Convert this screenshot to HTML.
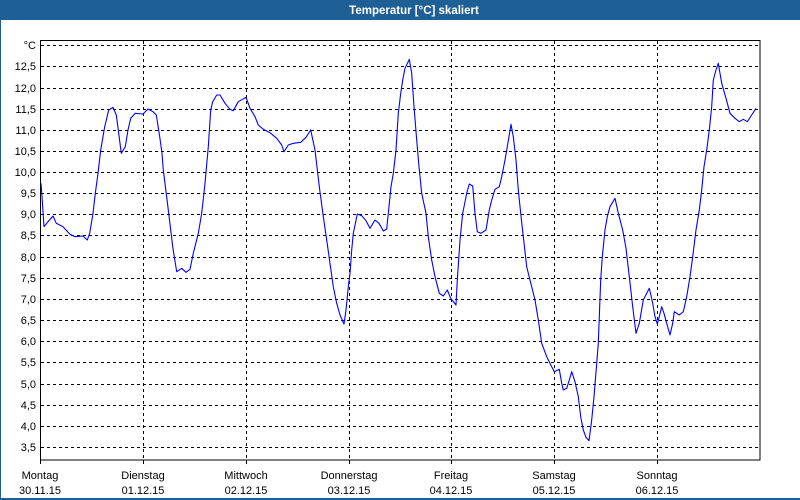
<!DOCTYPE html>
<html>
<head>
<meta charset="utf-8">
<style>
html,body{margin:0;padding:0;background:#fff;}
svg{display:block;}
text{font-family:"Liberation Sans",Arial,sans-serif;}
</style>
</head>
<body>
<svg width="800" height="500" viewBox="0 0 800 500" xmlns="http://www.w3.org/2000/svg">
<rect x="0" y="0" width="800" height="500" fill="#ffffff"/>
<!-- title bar -->
<rect x="0" y="0" width="800" height="20" fill="#1e6096"/>
<text x="414" y="14" fill="#ffffff" font-size="11.5" font-weight="bold" text-anchor="middle">Temperatur [°C] skaliert</text>
<!-- frame borders -->
<rect x="0" y="20" width="1" height="480" fill="#1e6096"/>
<rect x="0" y="498" width="800" height="2" fill="#1e6096"/>

<!-- horizontal dashed grid -->
<g stroke="#000" stroke-width="1" stroke-dasharray="3,3" shape-rendering="crispEdges">
<line x1="41" x2="760" y1="45.5" y2="45.5"/>
<line x1="41" x2="760" y1="66.5" y2="66.5"/>
<line x1="41" x2="760" y1="88.5" y2="88.5"/>
<line x1="41" x2="760" y1="109.5" y2="109.5"/>
<line x1="41" x2="760" y1="130.5" y2="130.5"/>
<line x1="41" x2="760" y1="151.5" y2="151.5"/>
<line x1="41" x2="760" y1="172.5" y2="172.5"/>
<line x1="41" x2="760" y1="193.5" y2="193.5"/>
<line x1="41" x2="760" y1="214.5" y2="214.5"/>
<line x1="41" x2="760" y1="235.5" y2="235.5"/>
<line x1="41" x2="760" y1="257.5" y2="257.5"/>
<line x1="41" x2="760" y1="278.5" y2="278.5"/>
<line x1="41" x2="760" y1="299.5" y2="299.5"/>
<line x1="41" x2="760" y1="320.5" y2="320.5"/>
<line x1="41" x2="760" y1="341.5" y2="341.5"/>
<line x1="41" x2="760" y1="362.5" y2="362.5"/>
<line x1="41" x2="760" y1="384.5" y2="384.5"/>
<line x1="41" x2="760" y1="405.5" y2="405.5"/>
<line x1="41" x2="760" y1="426.5" y2="426.5"/>
<line x1="41" x2="760" y1="447.5" y2="447.5"/>
</g>
<!-- vertical dashed grid -->
<g stroke="#000" stroke-width="1" stroke-dasharray="3,3" shape-rendering="crispEdges">
<line x1="143.5" x2="143.5" y1="41" y2="460"/>
<line x1="246.5" x2="246.5" y1="41" y2="460"/>
<line x1="349.5" x2="349.5" y1="41" y2="460"/>
<line x1="451.5" x2="451.5" y1="41" y2="460"/>
<line x1="554.5" x2="554.5" y1="41" y2="460"/>
<line x1="657.5" x2="657.5" y1="41" y2="460"/>
</g>
<!-- ticks below axis -->
<g stroke="#000" stroke-width="1" shape-rendering="crispEdges">
<line x1="40.5" x2="40.5" y1="460" y2="464"/>
<line x1="143.5" x2="143.5" y1="460" y2="464"/>
<line x1="246.5" x2="246.5" y1="460" y2="464"/>
<line x1="349.5" x2="349.5" y1="460" y2="464"/>
<line x1="451.5" x2="451.5" y1="460" y2="464"/>
<line x1="554.5" x2="554.5" y1="460" y2="464"/>
<line x1="657.5" x2="657.5" y1="460" y2="464"/>
</g>
<!-- plot frame -->
<rect x="40.5" y="40.5" width="719.5" height="419.5" fill="none" stroke="#000" stroke-width="1.2" shape-rendering="crispEdges"/>

<!-- data line -->
<polyline fill="none" stroke="#0000ff" stroke-width="1.1" stroke-linejoin="round" points="
41,183.3 42,196.7 44,226.7 48,221.7 53,216 56.3,223.3 63,226.7 69.7,234 74.7,236.7 83,236 87.3,240 89.7,233.3 93,213.3 95.3,193.3 98,173.3 100.7,150 104.7,126.7 108.7,110 113,107.3 116.3,115 118.7,133.3 121.3,153.3 125.3,146.7 128,130 130.7,118.3 135.3,113.3 143,114 148,109 153,111.7 156.3,115 159.7,136.7 162,153.3
163.3,170 168.3,210 172.7,246.7 176.7,271.7 181.7,268.3 186,272.3 190,269.3 193.3,253.3 198.3,233.3 201.7,213.3 205,183.3 208.3,146.7 210.7,110 212.7,101.7 216.7,95 220,95 225,103.3 230,109.3 233.3,110.7 238.3,101.7 246,97.3 250,108.3 255,116.7 258.3,125 263.3,129.3 270,132.7 276.7,138.3 281.7,145
284,151.7 288.3,145 293.3,143.3 300.7,142.3 306,137.3 310.7,130 315,150 319.3,186.7 323.3,216.7 326.7,240 330,263.3 333.3,286.7 336.7,303.3 340,315 344,324 346,310 348.3,286.7 350,273.3 351.7,250 353.3,233.3 357.3,214 361.7,215.7 366,220.7 370,228.3 375,220 379,223.3 383.3,231 386.7,229 388.3,213.3 391,186.7 393.3,173.3 396,150 398.3,113.3 400.5,95 402.7,80
405,68.3 409.3,59.3 411.7,73.3 414,106.7 416.7,140 419,166.7 421.7,193.3 426,213.3 428.3,236.7 431.7,260 435,276.7 439.3,293.3 443.3,296 447.3,290 450.7,298.3 456,305 457.3,280 460,240 462.7,213.3 466.7,193.3 469.3,184 472.7,186 475,213.3 477.3,231.7 481,233.3 486,230 489.3,210 491.7,200 495,189.3 499.3,186.7 501.7,176.7 505,160 507.3,146.7 511,124.3 513.3,136.7 516,160 518.3,190 520.7,213.3
523.3,236.7 526.7,266.7 530,280 535,300 538.3,320 541.7,343.3 546.7,356.7 551.7,366.7 554.3,371.7 559.3,369.3 561.7,383.3 563.3,390 566.7,388.3 569.3,380 571.7,371.7 575,381.7 578.3,396.7 580.7,416.7 583.3,430 586,437.3 589,440.7 591.7,420 594,396.7 596.7,363.3 598.3,343.3 599.3,316.7 600.7,280 602.3,256.7 605,230 607.3,216.7 610,206.7 615,198.3 618.3,213.3 622.7,230 626,248.3 629.3,276.7 632.7,306.7 636,333.3 639.3,323.3 643.3,300 649.3,288.3 652.7,303.3 655,316.7 657.3,324 659.3,316.7 661.7,306.7 664,313.3 666.7,323.3 670,335 672.7,323.3 674.3,311.7 679.3,315 683.3,311.7 686.7,296.7 690,276.7 692.7,256.7 696,230 699.3,210 701.7,190 704,166.7 706.7,150 709.3,130 711.7,106.7 713.3,80 716,70 718.3,63.3 721.7,83.3 726,98.3 730,113.3 735,118.3 739.3,121.7 743.3,119.3 747.3,121.7 751.7,115 756,108.3"/>

<!-- y-axis labels -->
<g font-size="11" fill="#000" text-anchor="end">
<text x="36" y="49">°C</text>
<text x="36" y="70">12,5</text>
<text x="36" y="92">12,0</text>
<text x="36" y="113">11,5</text>
<text x="36" y="134">11,0</text>
<text x="36" y="155">10,5</text>
<text x="36" y="176">10,0</text>
<text x="36" y="197">9,5</text>
<text x="36" y="218">9,0</text>
<text x="36" y="239">8,5</text>
<text x="36" y="261">8,0</text>
<text x="36" y="282">7,5</text>
<text x="36" y="303">7,0</text>
<text x="36" y="324">6,5</text>
<text x="36" y="345">6,0</text>
<text x="36" y="366">5,5</text>
<text x="36" y="388">5,0</text>
<text x="36" y="409">4,5</text>
<text x="36" y="430">4,0</text>
<text x="36" y="451">3,5</text>
</g>

<!-- x-axis labels -->
<g font-size="11" fill="#000" text-anchor="middle">
<text x="40" y="479">Montag</text>
<text x="40" y="494">30.11.15</text>
<text x="143" y="479">Dienstag</text>
<text x="143" y="494">01.12.15</text>
<text x="246" y="479">Mittwoch</text>
<text x="246" y="494">02.12.15</text>
<text x="349" y="479">Donnerstag</text>
<text x="349" y="494">03.12.15</text>
<text x="451" y="479">Freitag</text>
<text x="451" y="494">04.12.15</text>
<text x="554" y="479">Samstag</text>
<text x="554" y="494">05.12.15</text>
<text x="657" y="479">Sonntag</text>
<text x="657" y="494">06.12.15</text>
</g>
</svg>
</body>
</html>
